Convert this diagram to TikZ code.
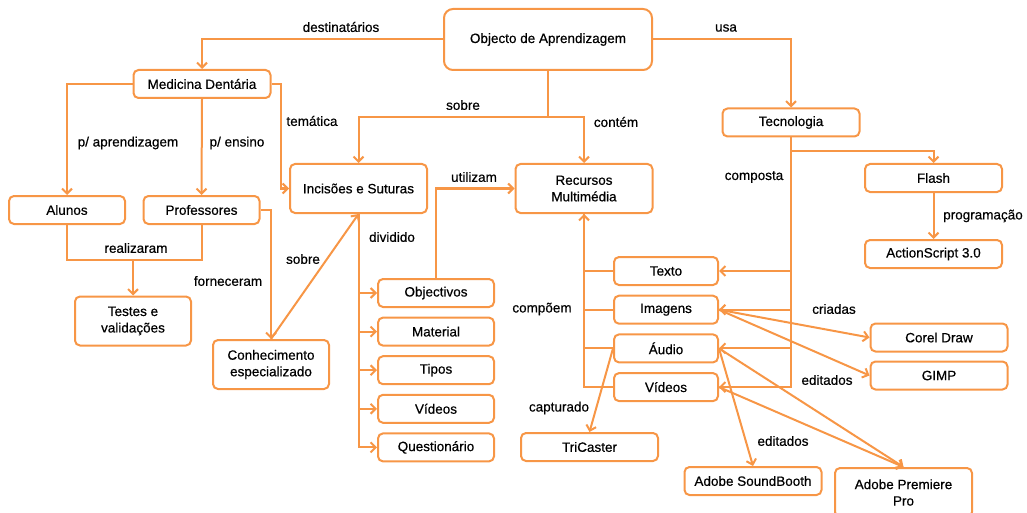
\documentclass[tikz,border=0pt]{standalone}
\usepackage{fontspec}
\setmainfont{Liberation Sans}[FakeBold=0.5]
\usetikzlibrary{arrows.meta}
\definecolor{mapline}{RGB}{247,150,70}

\begin{document}
\begin{tikzpicture}[x=1pt, y=-1pt,
    box/.style={draw=mapline, line width=2pt, rounded corners=5pt, fill=white,
      align=center, inner sep=0pt, minimum height=28pt,
      font=\fontsize{13.5}{16.5}\selectfont},
    wbox/.style={box, minimum width=137pt},
    nbox/.style={box, minimum width=116pt},
    tall/.style={minimum height=49pt},
    link/.style={draw=mapline, line width=2pt},
    arr/.style={link, -{Straight Barb[length=5pt,width=10pt]}},
    lbl/.style={inner sep=0pt, font=\fontsize{13.5}{16.5}\selectfont}]
    \useasboundingbox (0,0) rectangle (1027,513);
    \node[box, minimum width=208pt, minimum height=61pt, rounded corners=9pt] (obj) at (548,39.5) {Objecto de Aprendizagem};
    \node[wbox] (med) at (202,84) {Medicina Dentária};
    \node[nbox] (alu) at (67,210) {Alunos};
    \node[nbox] (pro) at (201.5,210) {Professores};
    \node[nbox, tall] (tes) at (133,321) {Testes e\\validações};
    \node[nbox, tall] (con) at (271,364.5) {Conhecimento\\especializado};
    \node[wbox, tall] (inc) at (358.5,188.5) {Incisões e Suturas};
    \node[wbox, tall] (rec) at (584,188.5) {Recursos\\Multimédia};
    \node[wbox] (tec) at (791,122.5) {Tecnologia};
    \node[wbox] (fla) at (933.5,178) {Flash};
    \node[wbox] (act) at (933.5,254) {ActionScript 3.0};
    \foreach \n/\t [count=\i from 0] in {objv/Objectivos, mat/Material, tip/Tipos, vidb/Vídeos, que/Questionário}
      {\node[nbox] (\n) at (436,293+38.6*\i) {\t};}
    \foreach \n/\t [count=\i from 0] in {tex/Texto, ima/Imagens, aud/Áudio, vid/Vídeos}
      {\node[box, minimum width=104pt] (\n) at (666,271+38.7*\i) {\t};}
    \node[wbox] (tri) at (589.5,447) {TriCaster};
    \node[wbox] (snd) at (753,481) {Adobe SoundBooth};
    \node[wbox, tall] (pre) at (903.5,492.5) {Adobe Premiere\\Pro};
    \node[wbox] (cor) at (939,337.5) {Corel Draw};
    \node[wbox] (gim) at (939,375.5) {GIMP};

    \coordinate (top) at (548,117);
    \coordinate (test) at (133,260);
    \draw[arr] (obj.west) -| (med.north);
    \draw[arr] (obj.east) -| (tec.north);
    \draw[link] (obj.south) -- (top);
    \draw[arr] (top) -| (inc.north);
    \draw[arr] (top) -| (rec.north);
    \draw[arr] (med.west) -| (alu.north);
    \draw[arr] (med.south) -- (pro.north);
    \draw[arr] (med.east) -- ++(9,0) |- (inc.west);
    \draw[link] (alu.south) |- (test);
    \draw[link] (pro.south) |- (test);
    \draw[arr] (test) -- (tes.north);
    \draw[arr] (pro.east) -| (con.north);
    \draw[arr] (con.north) -- (inc.south);
    \foreach \n in {objv,mat,tip,vidb,que} {\draw[arr] (inc.south) |- (\n.west);}
    \draw[arr] (objv.north) |- (rec.west);
    \foreach \n in {tex,ima,aud} {\draw[link] (\n.west) -| (rec.south);}
    \draw[arr] (vid.west) -| (rec.south);
    \foreach \n in {tex,ima,aud,vid} {\draw[arr] (tec.south) |- (\n.east);}
    \draw[arr] (tec.south) -- ++(0,14) -| (fla.north);
    \draw[arr] (fla.south) -- (act.north);
    \draw[arr] (ima.east) -- (cor.west);
    \draw[arr] (ima.east) -- (gim.west);
    \draw[arr] (aud.east) -- (snd.north);
    \draw[arr] (aud.east) -- (pre.north);
    \draw[arr] (vid.east) -- (pre.north);
    \draw[arr] (aud.west) -- (tri.north);

    \node[lbl] (l1) at (341,27) {destinatários};
    \node[lbl] (l2) at (726,28) {usa};
    \node[lbl] (l3) at (463,105) {sobre};
    \node[lbl] (l4) at (616,122) {contém};
    \node[lbl] (l5) at (312,121) {temática};
    \node[lbl] (l6) at (128,143) {p/ aprendizagem};
    \node[lbl] (l7) at (237,143) {p/ ensino};
    \node[lbl] (l8) at (474,177) {utilizam};
    \node[lbl] (l9) at (754,177) {composta};
    \node[lbl] (l10) at (983,216) {programação};
    \node[lbl] (l11) at (392,237) {dividido};
    \node[lbl] (l12) at (136,248) {realizaram};
    \node[lbl] (l13) at (303,259) {sobre};
    \node[lbl] (l14) at (228,281) {forneceram};
    \node[lbl] (l15) at (542,309) {compõem};
    \node[lbl] (l16) at (834,309) {criadas};
    \node[lbl] (l17) at (827,380) {editados};
    \node[lbl] (l18) at (559,408) {capturado};
    \node[lbl] (l19) at (783,441) {editados};
\end{tikzpicture}
\end{document}
